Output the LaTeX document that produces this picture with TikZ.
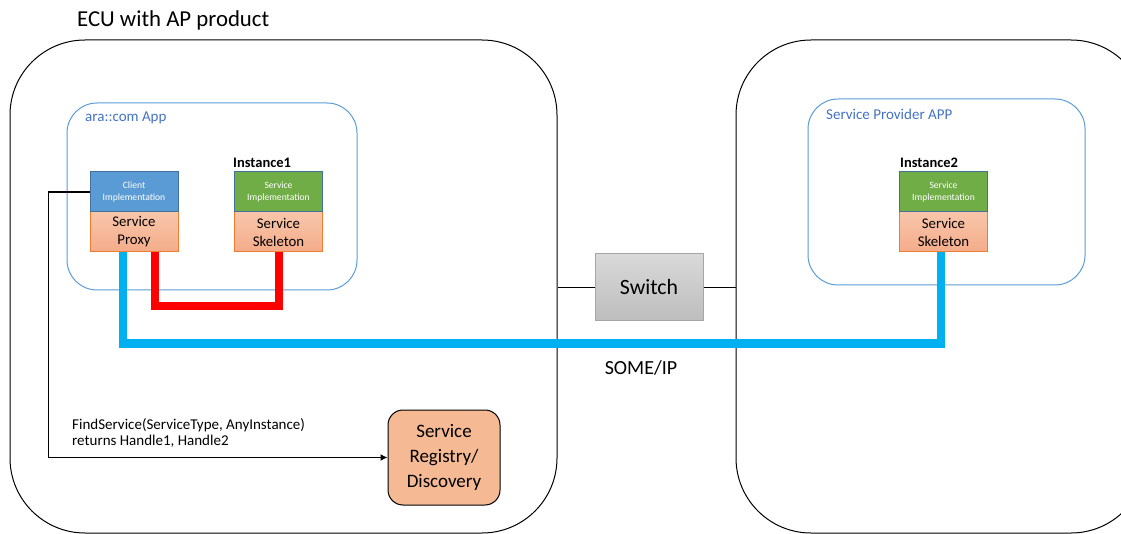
\documentclass[tikz,border=0pt]{standalone}
\usepackage{fontspec}
\setmainfont{Carlito}
\usetikzlibrary{arrows.meta}
\definecolor{appblue}{HTML}{5B9BD5}
\definecolor{lblblue}{HTML}{4472C4}
\definecolor{clientfill}{HTML}{5B9BD5}
\definecolor{boxedge}{HTML}{41719C}
\definecolor{implgreen}{HTML}{70AD47}
\definecolor{salmontop}{HTML}{F8C6AA}
\definecolor{salmonbot}{HTML}{F4AC8A}
\definecolor{salmonedge}{HTML}{ED7D31}
\definecolor{regfill}{HTML}{F5BA94}
\definecolor{swtop}{HTML}{D9D9D9}
\definecolor{swbot}{HTML}{BDBDBD}
\definecolor{swedge}{HTML}{A6A6A6}
\definecolor{redline}{HTML}{FF0000}
\definecolor{cyanline}{HTML}{00B0F0}
\tikzset{
  bigbox/.style={draw=black, line width=1pt, rounded corners=75pt, inner sep=0pt},
  appbox/.style={draw=appblue, line width=1pt, rounded corners=30pt, inner sep=0pt},
  applabel/.style={text=lblblue, font=\fontsize{15}{17}\selectfont, anchor=west, inner sep=0pt},
  implbox/.style={draw=boxedge, line width=1pt, minimum width=88pt, minimum height=40pt, inner sep=0pt, align=center, text=white, font=\fontsize{9.6}{12}\selectfont},
  proxybox/.style={draw=salmonedge, line width=1pt, top color=salmontop, bottom color=salmonbot, minimum width=88pt, minimum height=40pt, inner sep=0pt, align=center, font=\fontsize{14.8}{18}\selectfont},
  instlabel/.style={font=\bfseries\fontsize{14.5}{16}\selectfont, anchor=west, inner sep=0pt},
  redwire/.style={draw=redline, line width=8pt},
  cyanwire/.style={draw=cyanline, line width=8pt},
}
\begin{document}
\begin{tikzpicture}[x=1pt,y=-1pt]
\useasboundingbox (0,0) rectangle (1121,534);
\begin{scope}
\clip (0,0) rectangle (1121,534);
\node[bigbox, minimum width=547pt, minimum height=493pt] (ecu) at (283.5,286.5) {};
\node[bigbox, minimum width=410pt, minimum height=493pt] (rem) at (941,286.5) {};
\end{scope}
\node[anchor=west, inner sep=0pt, font=\fontsize{22.8}{26}\selectfont] (title) at (77,20) {ECU with AP product};

\node[appbox, minimum width=290pt, minimum height=187pt] (app1) at (212,196.5) {};
\node[applabel] (app1lbl) at (85,118) {ara::com App};
\node[appbox, minimum width=277pt, minimum height=186pt] (app2) at (946.5,192) {};
\node[applabel] (app2lbl) at (826,114) {Service Provider APP};

\node[proxybox] (proxy) at (134,232) {Service\\Proxy};
\node[proxybox] (skel1) at (278.5,232) {Service\\Skeleton};
\node[proxybox] (skel2) at (943.5,232) {Service\\Skeleton};

\draw[redwire] ([xshift=21pt]proxy.south) -- ++(0,54) -| (skel1.south);
\draw[cyanwire] ([xshift=-11pt]proxy.south) -- ++(0,91) -| ([xshift=-3pt]skel2.south);

\node[implbox, fill=clientfill] (client) at (134,192) {Client\\Implementation};
\node[implbox, fill=implgreen] (impl1) at (278.5,192) {Service\\Implementation};
\node[implbox, fill=implgreen] (impl2) at (943.5,192) {Service\\Implementation};
\node[instlabel] (inst1) at (233,163) {Instance1};
\node[instlabel] (inst2) at (900,163) {Instance2};

\node[draw=swedge, line width=1pt, top color=swtop, bottom color=swbot, minimum width=108pt, minimum height=67pt, inner sep=0pt, font=\fontsize{21.8}{24}\selectfont] (switch) at (649,287.5) {Switch};
\draw[line width=1pt] (switch.west) -- (switch.west -| ecu.east);
\draw[line width=1pt] (switch.east) -- (switch.east -| rem.west);
\node[inner sep=0pt, font=\fontsize{20}{22}\selectfont] (someip) at (641,368) {SOME/IP};

\node[draw=black, line width=1pt, fill=regfill, rounded corners=15pt, minimum width=112pt, minimum height=95pt, inner sep=0pt, align=center, font=\fontsize{19}{25}\selectfont] (reg) at (444,457.5) {Service\\Registry/\\Discovery};
\draw[line width=1.2pt, -{Latex[length=7pt,width=7pt]}] (client.west) -- ++(-41,0) |- (reg.west);
\node[anchor=west, inner sep=0pt, align=left, font=\fontsize{15}{16.5}\selectfont] (findlbl) at (72,433) {FindService(ServiceType, AnyInstance)\\returns Handle1, Handle2};
\end{tikzpicture}
\end{document}
